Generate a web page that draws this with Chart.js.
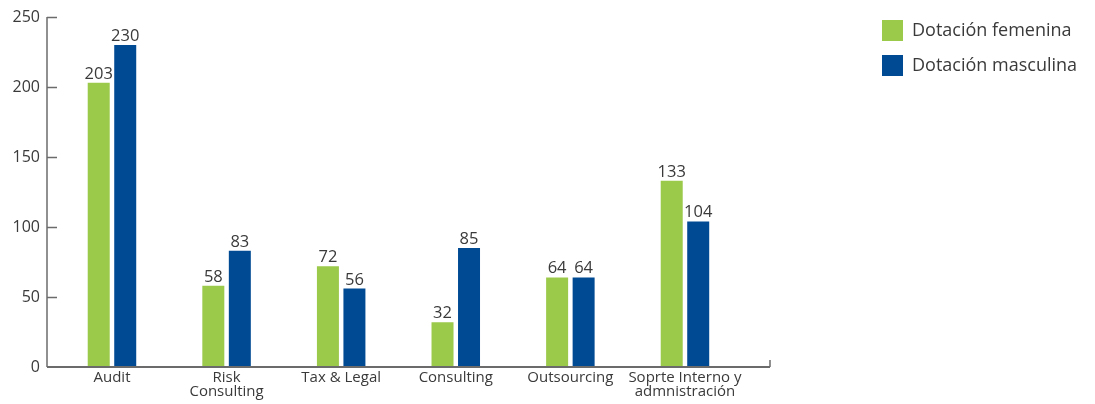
<!DOCTYPE html>
<html>
<head>
<meta charset="utf-8">
<script src="https://cdn.jsdelivr.net/npm/chart.js@4/dist/chart.umd.min.js"></script>
<style>
  html, body { margin: 0; padding: 0; background: #ffffff; }
  #wrap { width: 1095px; height: 404px; position: relative; }
</style>
</head>
<body>
<div id="wrap"><canvas id="c" width="1095" height="404"></canvas></div>
<script>
// Headcount by business area
const categories = ['Audit', ['Risk', 'Consulting'], 'Tax & Legal', 'Consulting', 'Outsourcing', ['Soprte Interno y', 'admnistración']];
const femenina = [203, 58, 72, 32, 64, 133];
const masculina = [230, 83, 56, 85, 64, 104];
const yTicks = [0, 50, 100, 150, 200, 250];
const seriesNames = ['Dotación femenina', 'Dotación masculina'];

const FONT = "'Open Sans', 'Noto Sans', sans-serif";
const GREEN = '#9bc94a';
const BLUE = '#004a93';
const AXIS = '#6b6b6b';
const TEXT = '#3a3a3a';

// Spread the categories a little wider on the right than the left
const categorySpan = {
  id: 'categorySpan',
  afterLayout(chart) {
    const x = chart.scales.x;
    x._startValue = -0.567;
    x._valueRange = 6.309;
  }
};

// Axis lines, inward ticks, value labels and the legend
const decor = {
  id: 'decor',
  afterDatasetsDraw(chart) {
    const ctx = chart.ctx;
    const a = chart.chartArea;
    const y = chart.scales.y;
    ctx.save();
    ctx.strokeStyle = AXIS;

    ctx.lineWidth = 1.5;
    ctx.beginPath();
    ctx.moveTo(a.left, a.top);
    ctx.lineTo(a.left, a.bottom);
    ctx.stroke();
    yTicks.forEach(v => {
      if (v === 0) return;
      const py = Math.round(y.getPixelForValue(v)) + 0.5;
      ctx.beginPath();
      ctx.moveTo(a.left, py);
      ctx.lineTo(a.left + 10, py);
      ctx.stroke();
    });

    ctx.lineWidth = 2;
    ctx.beginPath();
    ctx.moveTo(a.left, a.bottom);
    ctx.lineTo(a.right, a.bottom);
    ctx.stroke();
    ctx.lineWidth = 1.5;
    ctx.beginPath();
    ctx.moveTo(a.right, a.bottom);
    ctx.lineTo(a.right, a.bottom - 7);
    ctx.stroke();

    ctx.fillStyle = TEXT;
    ctx.font = '16.5px ' + FONT;
    ctx.textAlign = 'center';
    ctx.textBaseline = 'alphabetic';
    chart.data.datasets.forEach((ds, i) => {
      chart.getDatasetMeta(i).data.forEach((bar, j) => {
        ctx.fillText(String(ds.data[j]), bar.x, bar.y - 4);
      });
    });

    ctx.font = '18px ' + FONT;
    ctx.textAlign = 'left';
    ctx.textBaseline = 'middle';
    chart.data.datasets.forEach((ds, i) => {
      const top = 20 + i * 35;
      ctx.fillStyle = ds.backgroundColor;
      ctx.fillRect(882, top, 21, 21);
      ctx.fillStyle = TEXT;
      ctx.fillText(ds.label, 912, top + 11);
    });
    ctx.restore();
  }
};

new Chart(document.getElementById('c'), {
  type: 'bar',
  data: {
    labels: categories,
    datasets: [
      { label: seriesNames[0], data: femenina, backgroundColor: GREEN },
      { label: seriesNames[1], data: masculina, backgroundColor: BLUE }
    ]
  },
  options: {
    responsive: false,
    animation: false,
    devicePixelRatio: 1,
    layout: { padding: { left: 0, top: 17, right: 325, bottom: 0 } },
    datasets: { bar: { categoryPercentage: 0.4625, barPercentage: 0.83 } },
    plugins: { legend: { display: false }, tooltip: { enabled: false } },
    scales: {
      x: {
        grid: { display: false, drawTicks: false },
        border: { display: false },
        ticks: {
          color: TEXT,
          font: { family: FONT, size: 15, lineHeight: 0.92 },
          padding: 4,
          maxRotation: 0,
          autoSkip: false
        },
        afterFit: s => { s.height = 37; }
      },
      y: {
        min: 0,
        max: 250,
        afterBuildTicks: s => { s.ticks = yTicks.map(v => ({ value: v })); },
        grid: { display: false, drawTicks: false },
        border: { display: false },
        ticks: { color: TEXT, font: { family: FONT, size: 16 }, padding: 7 },
        afterFit: s => { s.width = 47; }
      }
    }
  },
  plugins: [categorySpan, decor]
});
</script>
</body>
</html>
